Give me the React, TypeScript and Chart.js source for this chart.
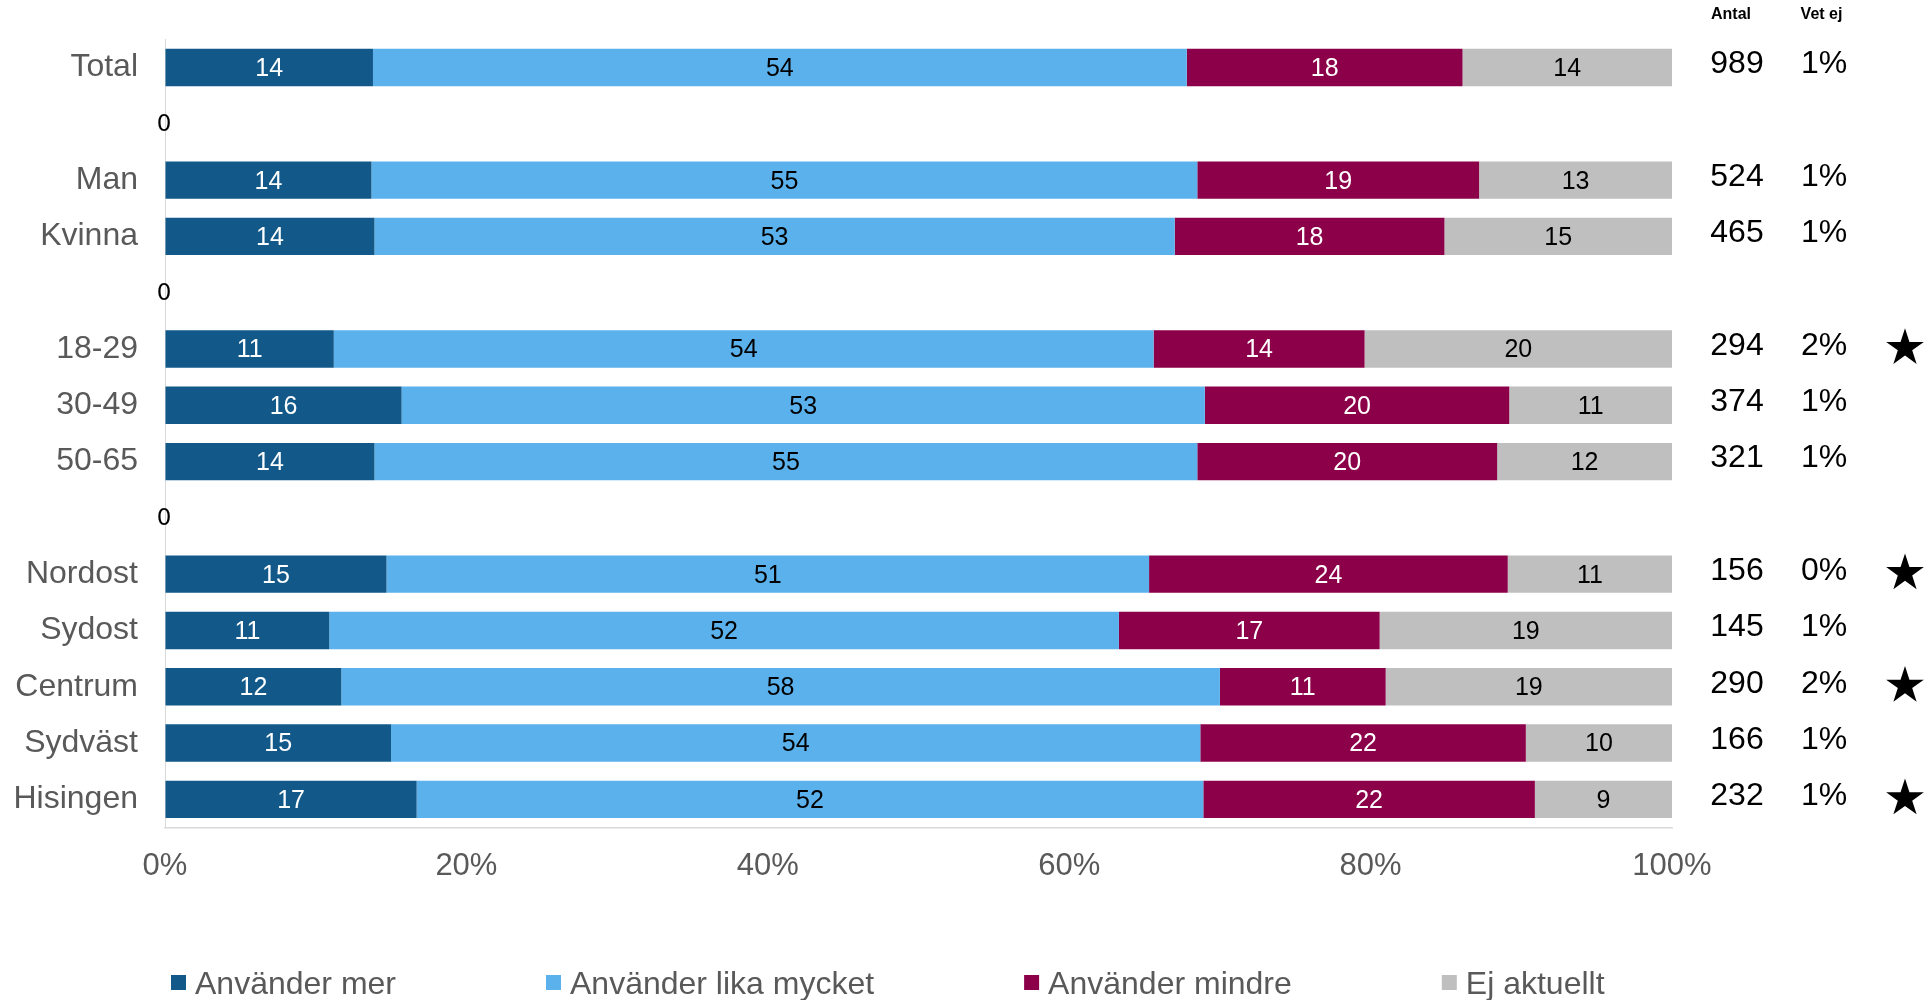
import React, { useEffect, useRef } from "react";
import { Chart, registerables } from "chart.js";

Chart.register(...registerables);

// ---------- data ----------
const categories = [
  "Total", "", "Man", "Kvinna", "", "18-29", "30-49", "50-65", "",
  "Nordost", "Sydost", "Centrum", "Sydväst", "Hisingen",
];
const seriesNames = ["Använder mer", "Använder lika mycket", "Använder mindre", "Ej aktuellt"];
const anvanderMer = [13.8, 0, 13.7, 13.9, 0, 11.2, 15.7, 13.9, 0, 14.7, 10.9, 11.7, 15.0, 16.7];
const likaMycket = [54.0, 0, 54.8, 53.1, 0, 54.4, 53.3, 54.6, 0, 50.6, 52.4, 58.3, 53.7, 52.2];
const anvanderMindre = [18.3, 0, 18.7, 17.9, 0, 14.0, 20.2, 19.9, 0, 23.8, 17.3, 11.0, 21.6, 22.0];
const ejAktuellt = [13.9, 0, 12.8, 15.1, 0, 20.4, 10.8, 11.6, 0, 10.9, 19.4, 19.0, 9.7, 9.1];
const antal = ["989", "", "524", "465", "", "294", "374", "321", "", "156", "145", "290", "166", "232"];
const vetEj = ["1%", "", "1%", "1%", "", "2%", "1%", "1%", "", "0%", "1%", "2%", "1%", "1%"];
const starred = [false, false, false, false, false, true, false, false, false, true, false, true, false, true];
const xTickLabels = ["0%", "20%", "40%", "60%", "80%", "100%"];
const columnHeaders = ["Antal", "Vet ej"];

// ---------- styles ----------
const FONT = "'Liberation Sans', Arial, sans-serif";
const seriesColors = ["#12598A", "#5AB1EC", "#8C0049", "#BFBFBF"];
const labelColors = ["#FFFFFF", "#000000", "#FFFFFF", "#000000"];

const labelPlugin = {
  id: "barLabels",
  afterDatasetsDraw(chart: any) {
    const ctx = chart.ctx;
    ctx.save();
    ctx.textAlign = "center";
    ctx.textBaseline = "middle";
    chart.data.datasets.forEach((ds: any, di: number) => {
      const meta = chart.getDatasetMeta(di);
      meta.data.forEach((bar: any, i: number) => {
        const v = ds.data[i];
        if (v == null) return;
        if (v === 0) {
          if (di !== 0) return;
          ctx.font = `23px 'DejaVu Sans', sans-serif`;
          ctx.fillStyle = "#000000";
          ctx.fillText("0", chart.scales.x.getPixelForValue(0) - 1, bar.y + 1.5);
          return;
        }
        ctx.font = `25px ${FONT}`;
        ctx.fillStyle = labelColors[di];
        ctx.fillText(String(Math.round(v)), (bar.x + bar.base) / 2, bar.y + 1.5);
      });
    });
    ctx.restore();
  },
};

function drawStar(ctx: CanvasRenderingContext2D, cx: number, cy: number, R: number) {
  const r = R * 0.382;
  ctx.beginPath();
  for (let k = 0; k < 10; k++) {
    const rad = k % 2 === 0 ? R : r;
    const a = -Math.PI / 2 + (k * Math.PI) / 5;
    const px = cx + rad * Math.cos(a);
    const py = cy + rad * Math.sin(a);
    if (k === 0) ctx.moveTo(px, py);
    else ctx.lineTo(px, py);
  }
  ctx.closePath();
  ctx.fill();
}

const sidePlugin = {
  id: "sideColumns",
  afterDraw(chart: any) {
    const ctx = chart.ctx;
    const y = chart.scales.y;
    ctx.save();
    ctx.fillStyle = "#000000";
    ctx.textAlign = "center";
    ctx.textBaseline = "middle";
    ctx.font = `bold 16px ${FONT}`;
    ctx.fillText(columnHeaders[0], 1731, 15);
    ctx.fillText(columnHeaders[1], 1821.5, 15);
    ctx.font = `32px ${FONT}`;
    categories.forEach((_, i) => {
      const py = y.getPixelForValue(i);
      if (antal[i]) ctx.fillText(antal[i], 1737, py - 3);
      if (vetEj[i]) ctx.fillText(vetEj[i], 1824, py - 3);
      if (starred[i]) drawStar(ctx, 1905, py - 1, 19.8);
    });

    // legend
    ctx.textAlign = "left";
    ctx.textBaseline = "alphabetic";
    ctx.font = `32px ${FONT}`;
    let x = 171;
    chart.data.datasets.forEach((ds: any) => {
      ctx.fillStyle = ds.backgroundColor;
      ctx.fillRect(x, 975, 15, 15);
      ctx.fillStyle = "#595959";
      const tx = x + 24;
      ctx.fillText(ds.label, tx, 994);
      x = tx + ctx.measureText(ds.label).width + 150;
    });
    ctx.restore();
  },
};

export default function App() {
  const canvasRef = useRef<HTMLCanvasElement | null>(null);

  useEffect(() => {
    document.body.style.margin = "0";
    const canvas = canvasRef.current;
    if (!canvas) return;
    const seriesData = [anvanderMer, likaMycket, anvanderMindre, ejAktuellt];
    const chart = new Chart(canvas, {
      type: "bar",
      data: {
        labels: categories,
        datasets: seriesData.map((d, i) => ({
          label: seriesNames[i],
          data: d,
          backgroundColor: seriesColors[i],
          borderWidth: 0,
          barPercentage: 0.664,
          categoryPercentage: 1,
        })),
      },
      options: {
        indexAxis: "y",
        responsive: false,
        animation: false,
        events: [],
        layout: { padding: { left: 0, right: 254, top: 39.4, bottom: 0 } },
        plugins: {
          legend: { display: false },
          tooltip: { enabled: false },
          title: { display: false },
        },
        scales: {
          x: {
            stacked: true,
            min: 0,
            max: 100,
            grid: { display: true, color: "rgba(0,0,0,0)", drawTicks: false },
            border: { display: true, color: "#D9D9D9", width: 1.5 },
            ticks: {
              stepSize: 20,
              autoSkip: false,
              maxRotation: 0,
              padding: 20,
              color: "#595959",
              font: { family: FONT, size: 31 },
              callback: (_v: any, i: number) => xTickLabels[i],
            },
            afterFit: (s: any) => {
              s.height = 172.5;
            },
          },
          y: {
            stacked: true,
            grid: { display: true, color: "rgba(0,0,0,0)", drawTicks: false },
            border: { display: true, color: "#D9D9D9", width: 1 },
            ticks: {
              autoSkip: false,
              padding: 27,
              color: "#595959",
              font: { family: FONT, size: 32 },
            },
            afterFit: (s: any) => {
              s.width = 165;
              s.paddingTop = 0;
              s.paddingBottom = 0;
            },
          },
        },
      } as any,
      plugins: [labelPlugin, sidePlugin],
    });
    return () => chart.destroy();
  }, []);

  return (
    <div style={{ width: 1926, height: 1000, position: "relative", background: "#FFFFFF" }}>
      <canvas ref={canvasRef} width={1926} height={1000} style={{ display: "block" }} />
    </div>
  );
}
